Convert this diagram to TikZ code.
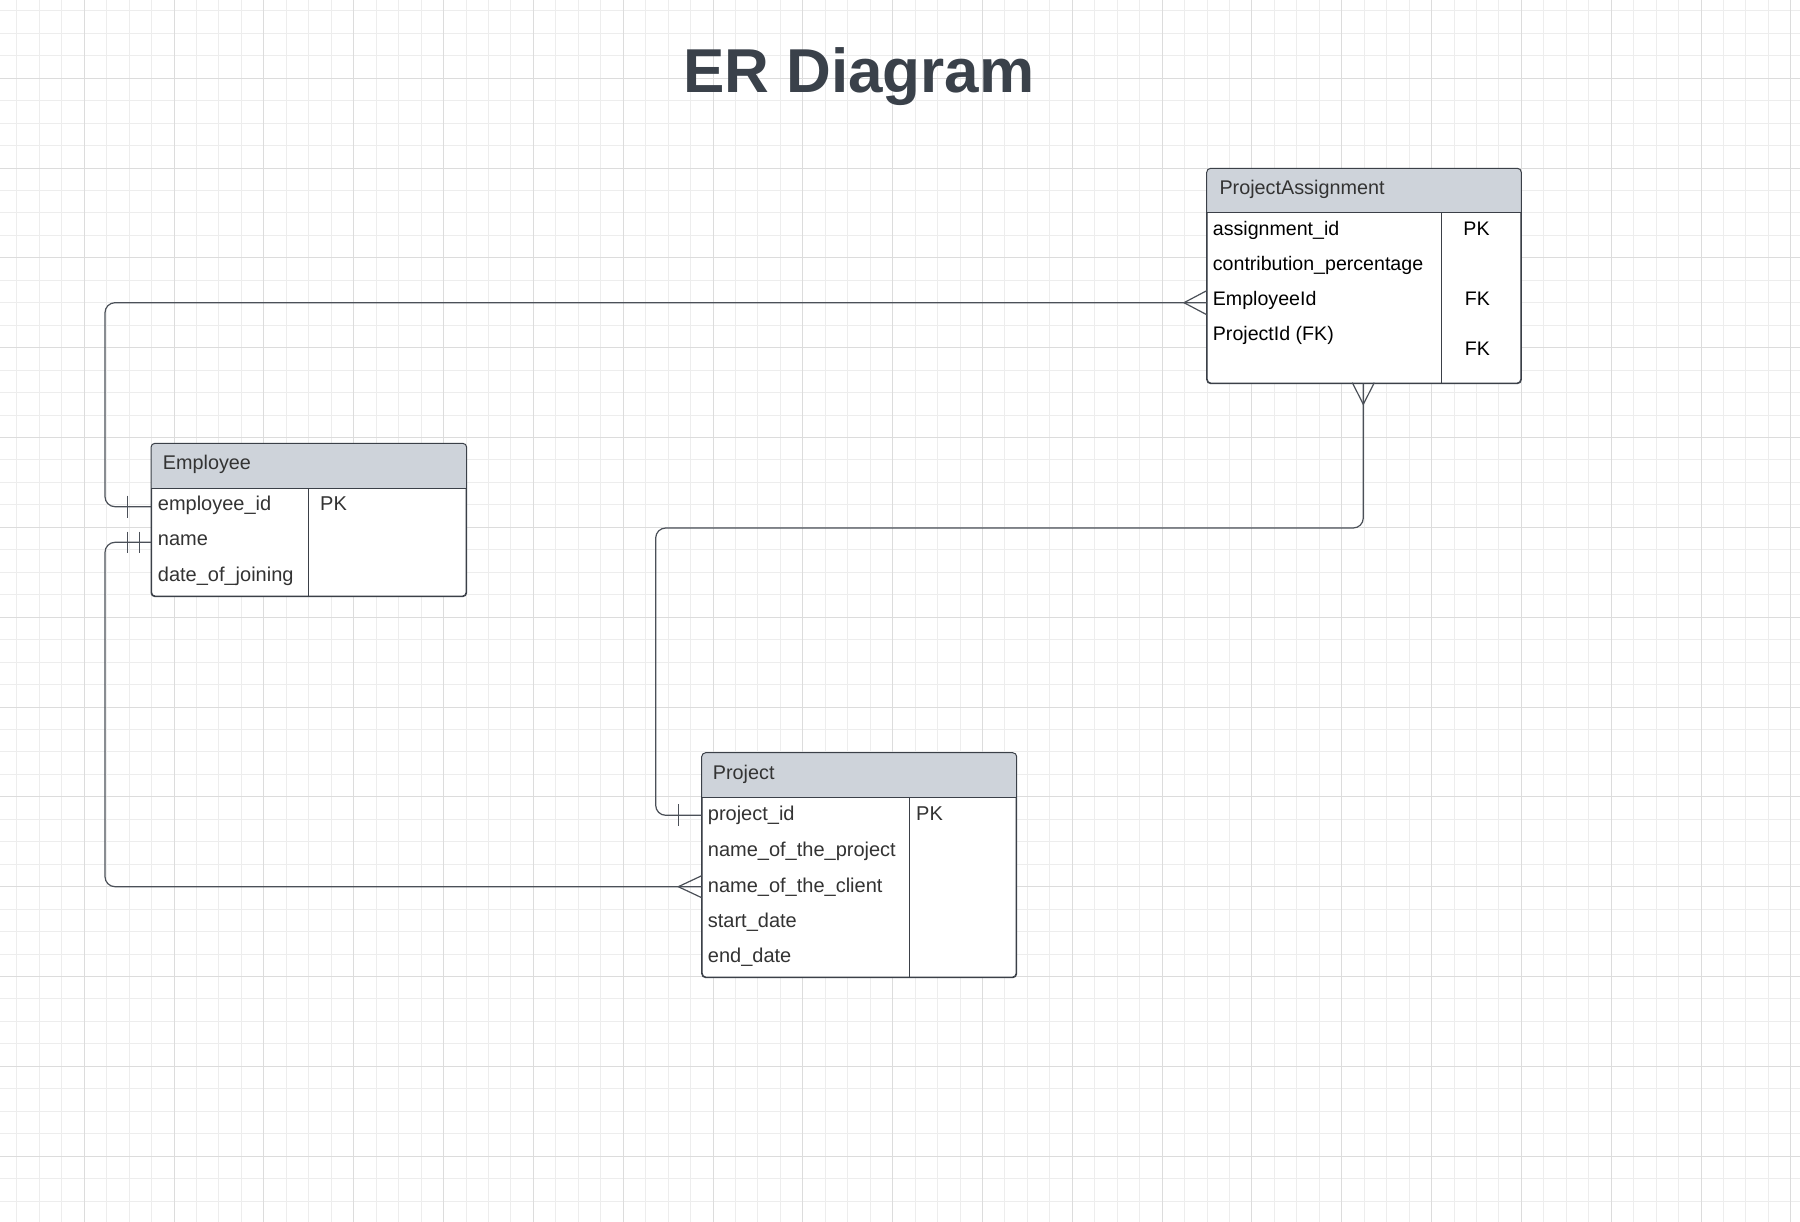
\documentclass[tikz,border=0pt]{standalone}
\usepackage{fontspec}
\setmainfont{Liberation Sans}
\definecolor{gridminor}{HTML}{EDEDED}
\definecolor{gridmajor}{HTML}{DCDCDC}
\definecolor{hdrfill}{HTML}{CED3DA}
\definecolor{boxline}{HTML}{3B4048}
\definecolor{connline}{HTML}{4B5058}
\definecolor{txtgray}{HTML}{333333}
\definecolor{titlecol}{HTML}{3A414A}
\tikzset{
  tbox/.style={draw=boxline, line width=1pt, rounded corners=4pt, fill=white, inner sep=0pt, anchor=north west},
  tborder/.style={draw=boxline, line width=1pt},
  hdrtxt/.style={anchor=base west, inner sep=0pt, text=txtgray, font=\fontsize{19.8}{23}\selectfont},
  rowtxt/.style={anchor=base west, inner sep=0pt, text=txtgray, font=\fontsize{20}{23}\selectfont},
  rowtxtb/.style={anchor=base west, inner sep=0pt, text=black, font=\fontsize{19.6}{23}\selectfont},
  keytxtb/.style={anchor=base, inner sep=0pt, text=black, font=\fontsize{19.6}{23}\selectfont},
  conn/.style={draw=connline, line width=1.2pt, rounded corners=10pt},
  endmark/.style={draw=connline, line width=1.2pt},
  gminor/.style={draw=gridminor, line width=1pt},
  gmajor/.style={draw=gridmajor, line width=1pt}
}
\begin{document}
\begin{tikzpicture}[x=1pt,y=-1pt]
\useasboundingbox (0,0) rectangle (1800,1222);
\fill[white] (0,0) rectangle (1800,1222);
% grid
\foreach \i in {0,...,79} { \draw[gminor] ({16.9+\i*22.455},0) -- ({16.9+\i*22.455},1222); }
\foreach \j in {0,...,53} { \draw[gminor] (0,{10.9+\j*22.455}) -- (1800,{10.9+\j*22.455}); }
\foreach \k in {0,...,19} { \draw[gmajor] ({84.3+\k*89.82},0) -- ({84.3+\k*89.82},1222); }
\foreach \k in {0,...,12} { \draw[gmajor] (0,{78.3+\k*89.82}) -- (1800,{78.3+\k*89.82}); }

% title
\node[anchor=base, inner sep=0pt, text=titlecol, font=\fontsize{62}{70}\selectfont\bfseries] (title) at (858.9,92.7) {ER Diagram};

% ---------- ProjectAssignment ----------
\node[tbox, minimum width=313.6pt, minimum height=214.4pt] (pa) at (1206.7,168.3) {};
\begin{scope}
  \clip[rounded corners=4pt] (pa.north west) rectangle (pa.south east);
  \fill[hdrfill] (pa.north west) rectangle ([yshift=-44.4pt]pa.north east);
\end{scope}
\draw[tborder] ([yshift=-44.4pt]pa.north west) -- ([yshift=-44.4pt]pa.north east);
\draw[tborder] (1441.7,212.7) -- (1441.7,382.7);
\draw[tborder, rounded corners=4pt] (pa.north west) rectangle (pa.south east);
\node[hdrtxt] (pa-h) at (1219.3,195) {ProjectAssignment};
\node[rowtxtb] (pa-r1) at (1212.7,235.3) {assignment\_id};
\node[rowtxtb] (pa-r2) at (1212.7,270.3) {contribution\_percentage};
\node[rowtxtb] (pa-r3) at (1212.7,305.8) {EmployeeId};
\node[rowtxtb] (pa-r4) at (1212.7,341) {ProjectId (FK)};
\node[keytxtb] (pa-k1) at (1476.5,235.3) {PK};
\node[keytxtb] (pa-k3) at (1477.5,305.8) {FK};
\node[keytxtb] (pa-k4) at (1477.5,356) {FK};

% ---------- Employee ----------
\node[tbox, minimum width=314.7pt, minimum height=152.4pt] (emp) at (151,443.3) {};
\begin{scope}
  \clip[rounded corners=4pt] (emp.north west) rectangle (emp.south east);
  \fill[hdrfill] (emp.north west) rectangle ([yshift=-45pt]emp.north east);
\end{scope}
\draw[tborder] ([yshift=-45pt]emp.north west) -- ([yshift=-45pt]emp.north east);
\draw[tborder] (308.3,488.3) -- (308.3,595.7);
\draw[tborder, rounded corners=4pt] (emp.north west) rectangle (emp.south east);
\node[hdrtxt] (emp-h) at (162.7,469.3) {Employee};
\node[rowtxt] (emp-r1) at (157.7,510.7) {employee\_id};
\node[rowtxt] (emp-r2) at (157.7,545.5) {name};
\node[rowtxt] (emp-r3) at (157.7,581.7) {date\_of\_joining};
\node[rowtxt] (emp-k1) at (320,510.7) {PK};

% ---------- Project ----------
\node[tbox, minimum width=314pt, minimum height=224pt] (proj) at (701.7,752.7) {};
\begin{scope}
  \clip[rounded corners=4pt] (proj.north west) rectangle (proj.south east);
  \fill[hdrfill] (proj.north west) rectangle ([yshift=-44.6pt]proj.north east);
\end{scope}
\draw[tborder] ([yshift=-44.6pt]proj.north west) -- ([yshift=-44.6pt]proj.north east);
\draw[tborder] (909.3,797.3) -- (909.3,976.7);
\draw[tborder, rounded corners=4pt] (proj.north west) rectangle (proj.south east);
\node[hdrtxt] (proj-h) at (712.7,779.3) {Project};
\node[rowtxt] (proj-r1) at (707.7,820) {project\_id};
\node[rowtxt] (proj-r2) at (707.7,856) {name\_of\_the\_project};
\node[rowtxt] (proj-r3) at (707.7,892) {name\_of\_the\_client};
\node[rowtxt] (proj-r4) at (707.7,927.7) {start\_date};
\node[rowtxt] (proj-r5) at (707.7,962.7) {end\_date};
\node[rowtxt] (proj-k1) at (916,820) {PK};

% ---------- connectors ----------
% Employee.employee_id  --  ProjectAssignment.EmployeeId
\draw[conn] (emp.west |- 0,506.7) -- (105,506.7) -- (105,302.7) -- (pa.west |- 0,302.7);
\draw[endmark] (127.7,495.7) -- (127.7,517.7);
\draw[endmark] (pa.west |- 0,290.7) -- (1184,302.7) -- (pa.west |- 0,314.7);

% Employee.name  --  Project.name_of_the_client
\draw[conn] (emp.west |- 0,542.3) -- (105,542.3) -- (105,886.7) -- (proj.west |- 0,886.7);
\draw[endmark] (127.7,531.7) -- (127.7,552.7);
\draw[endmark] (139.3,531.7) -- (139.3,552.7);
\draw[endmark] (proj.west |- 0,875.7) -- (678.3,886.7) -- (proj.west |- 0,897.7);

% Project.project_id  --  ProjectAssignment (bottom)
\draw[conn] (proj.west |- 0,815.3) -- (655.7,815.3) -- (655.7,528) -- (1363.3,528) -- (pa.south -| 1363.3,0);
\draw[endmark] (678.3,804.3) -- (678.3,826.3);
\draw[endmark] (1352.3,382.7) -- (1363.3,404.3) -- (1374.3,382.7);
\end{tikzpicture}
\end{document}
